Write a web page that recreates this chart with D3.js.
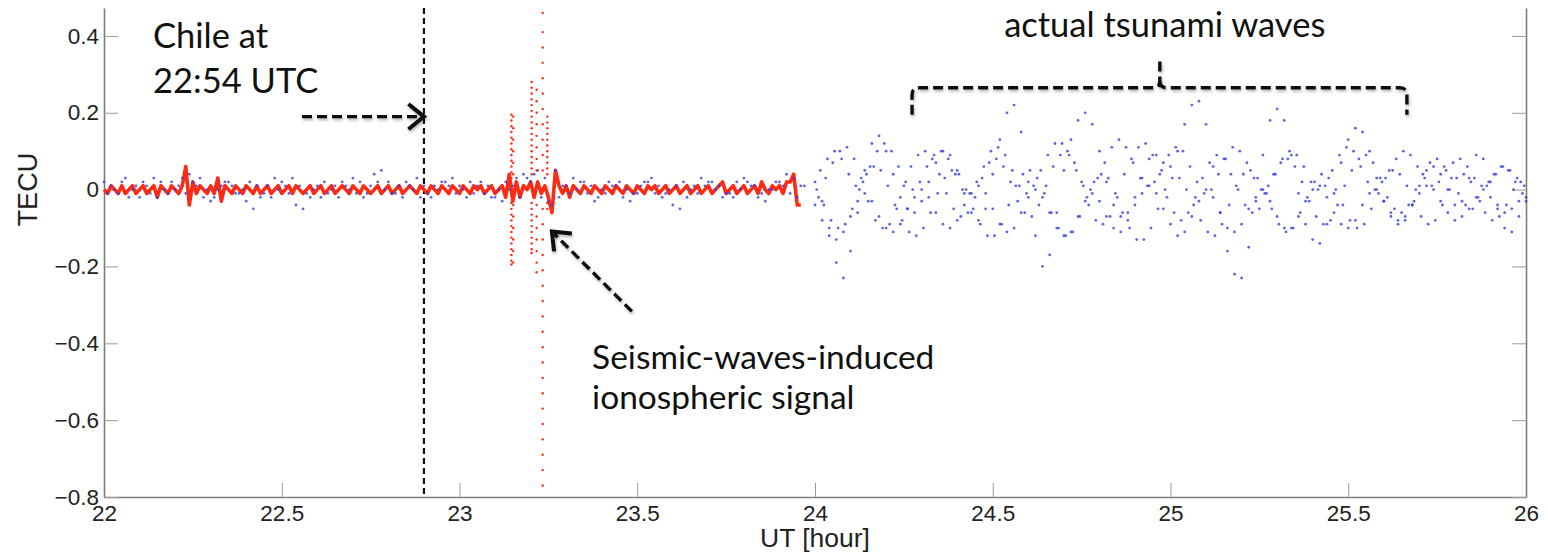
<!DOCTYPE html>
<html>
<head>
<meta charset="utf-8">
<script src="https://cdn.jsdelivr.net/npm/d3@7"></script>
<style>
  body { margin: 0; background: #fff; }
  svg { display: block; }
</style>
</head>
<body>
<svg id="chart" width="1548" height="554"></svg>
<script>
//*************************1. Data

const xTicks = [22, 22.5, 23, 23.5, 24, 24.5, 25, 25.5, 26];
const yTicks = [-0.8, -0.6, -0.4, -0.2, 0, 0.2, 0.4];
const quakeTime = 22.9; // 22:54 UTC

// red filtered TEC line, 22.00 .. 23.96 every 0.01 h
const redStart = 22.00, redStep = 0.01;
const redLine = [
  0.00,-0.01,0.01,0.00,-0.01,0.01,-0.01,0.00,0.01,-0.01,
  0.00,0.01,-0.01,0.00,0.01,-0.02,0.01,0.00,-0.01,0.01,
  0.00,-0.01,0.01,0.06,-0.04,0.02,-0.01,0.01,0.00,-0.01,
  0.01,-0.01,0.03,-0.03,0.01,0.00,-0.01,0.01,0.00,-0.01,
  0.01,0.00,-0.01,0.01,-0.01,0.00,0.01,-0.01,0.00,0.01,
  -0.01,0.00,0.01,-0.01,0.01,0.00,-0.01,0.00,0.01,-0.01,
  0.00,0.01,-0.01,0.00,0.01,-0.01,0.00,0.01,0.00,-0.01,
  0.01,0.00,-0.01,0.01,0.00,-0.01,0.00,0.01,-0.01,0.00,
  0.01,-0.01,0.00,0.01,-0.01,0.00,0.01,0.00,-0.01,0.01,
  0.00,-0.01,0.01,0.00,-0.01,0.01,0.00,-0.01,0.01,0.00,
  -0.01,0.01,0.00,-0.01,0.01,0.00,0.01,-0.01,0.00,0.01,
  -0.01,0.00,0.01,-0.02,0.04,-0.03,0.02,-0.02,0.01,0.00,
  0.02,-0.02,0.02,-0.01,0.01,-0.02,-0.06,0.05,0.01,-0.01,
  0.01,-0.02,0.01,0.00,-0.01,0.01,0.00,-0.01,0.01,0.00,
  -0.01,0.01,0.00,-0.01,0.01,0.00,-0.01,0.01,0.00,-0.01,
  0.01,0.00,-0.01,0.01,0.00,0.01,-0.01,0.00,0.01,-0.01,
  0.00,0.01,-0.01,0.00,0.01,-0.01,0.00,0.01,-0.01,0.00,
  0.01,-0.01,0.00,0.01,0.02,-0.01,0.00,0.01,-0.01,0.00,
  0.01,-0.01,0.00,0.01,-0.01,0.02,0.00,-0.01,0.01,0.00,
  0.01,-0.01,0.02,0.02,0.04,-0.04,-0.04
];

// blue dots before 24 h, every 0.02 h
const blueEarlyStart = 22.00, blueEarlyStep = 0.02;
const blueEarly1 = [
  0.02,0.01,-0.01,0.03,0.00,-0.02,0.01,0.03,0.02,-0.01,
  0.00,0.03,0.04,0.01,-0.02,-0.03,0.00,0.02,0.01,-0.01,
  -0.03,-0.05,-0.02,0.01,0.03,0.02,-0.01,-0.04,-0.05,-0.02,
  0.01,0.02,0.00,-0.02,0.01,0.03,0.02,-0.01,0.04,0.05,
  0.02,-0.01,-0.02,0.01,0.03,0.01,-0.02,0.00,0.02,0.03,
  0.01,-0.02,-0.01,0.02,0.01,-0.02,-0.03,0.00,0.03,0.04,
  0.02,0.05,0.03,-0.04,-0.02,0.01,0.03,0.02,-0.01,-0.03,
  0.00,0.02,0.01,-0.02,-0.03,-0.01,0.02,0.03,0.01,-0.01,
  -0.04,-0.05,-0.02,0.01,0.03,0.02,0.00,-0.02,-0.01,0.02,
  0.03,0.01,-0.02,-0.03,0.00,0.02,0.04,0.03,0.01
];
const blueEarly2 = [
  -0.01,0.00,0.02,-0.02,0.01,0.02,-0.01,-0.02,0.00,0.02,
  0.01,-0.01,0.02,0.03,0.00,-0.02,0.01,0.02,-0.01,0.00,
  0.02,0.01,-0.01,-0.02,0.00,0.01,0.03,0.01,-0.01,0.00,
  -0.02,-0.01,0.01,0.02,0.00,-0.01,-0.02,0.01,0.02,0.00,
  -0.01,0.01,0.02,0.00,-0.02,-0.01,0.01,0.02,0.01,-0.01,
  0.00,0.02,0.01,-0.01,-0.02,0.00,0.02,0.01,-0.02,0.03,
  0.04,-0.02,-0.03,0.05,0.01,-0.01,0.00,0.02,0.01,-0.02,
  -0.01,0.01,0.02,0.00,-0.01,0.01,0.02,-0.01,-0.02,0.00,
  0.01,0.02,0.00,-0.01,0.01,0.02,0.01,-0.01,-0.02,0.00,
  0.02,0.01,-0.01,0.00,0.02,0.01,-0.01,-0.02,0.01
];

// blue dots after 24 h (tsunami waves), every 0.02 h, one array per satellite track
const waveStep = 0.02;
const waveStarts = [24.000, 24.010, 24.005, 24.015, 24.000];
const wave1 = [
  0.02,-0.03,-0.10,-0.19,-0.23,-0.16,-0.06,0.05,0.12,0.14,
  0.10,0.04,-0.02,-0.05,-0.06,-0.03,0.02,0.07,0.10,0.09,
  0.05,-0.01,-0.06,-0.08,-0.05,0.04,0.13,0.20,0.22,0.15,
  0.02,-0.12,-0.20,-0.17,-0.06,0.05,0.13,0.18,0.20,0.17,
  0.10,0.02,-0.04,-0.07,-0.06,-0.02,0.03,0.08,0.09,0.07,
  0.06,0.10,0.17,0.22,0.23,0.17,0.06,-0.06,-0.16,-0.22,
  -0.23,-0.15,-0.03,0.09,0.18,0.21,0.18,0.09,-0.01,-0.09,
  -0.13,-0.14,-0.09,-0.01,0.07,0.13,0.16,0.15,0.10,0.03,
  -0.03,-0.07,-0.09,-0.08,-0.04,0.01,0.05,0.06,0.04,0.00,
  -0.04,-0.03,0.03,0.09,0.08,0.02,-0.05,-0.10,-0.11,-0.07,
  -0.03
];
const wave2 = [
  -0.02,0.03,0.07,0.10,0.11,0.08,0.03,-0.03,-0.08,-0.10,
  -0.09,-0.05,0.01,0.06,0.09,0.10,0.08,0.04,-0.01,-0.05,
  -0.07,-0.06,-0.02,0.03,0.07,0.08,0.06,0.02,-0.03,-0.06,
  -0.07,-0.04,0.01,0.06,0.09,0.10,0.07,0.02,-0.04,-0.08,
  -0.09,-0.07,-0.02,0.04,0.08,0.11,0.12,0.09,0.04,-0.02,
  -0.06,-0.08,-0.06,-0.02,0.03,0.07,0.09,0.08,0.04,0.00,
  -0.04,-0.06,-0.05,-0.01,0.04,0.07,0.08,0.06,0.02,-0.03,
  -0.07,-0.09,-0.08,-0.04,0.01,0.05,0.08,0.09,0.07,0.03,
  -0.02,-0.05,-0.06,-0.04,0.00,0.04,0.07,0.08,0.06,0.03,
  -0.01,-0.04,-0.05,-0.03,0.01,0.04,0.06,0.05,0.02,-0.01,
  -0.03
];
const wave3 = [
  0.00,-0.04,-0.08,-0.10,-0.09,-0.05,0.00,0.04,0.06,0.05,
  0.01,-0.04,-0.08,-0.11,-0.12,-0.10,-0.06,-0.01,0.03,0.05,
  0.04,0.00,-0.05,-0.09,-0.12,-0.12,-0.09,-0.04,0.01,0.04,
  0.05,0.03,-0.01,-0.06,-0.10,-0.12,-0.11,-0.07,-0.02,0.02,
  0.04,0.03,-0.01,-0.06,-0.10,-0.13,-0.13,-0.10,-0.05,0.00,
  0.03,0.03,0.00,-0.04,-0.08,-0.11,-0.12,-0.09,-0.04,0.01,
  0.04,0.05,0.03,-0.01,-0.05,-0.09,-0.11,-0.10,-0.06,-0.02,
  0.02,0.04,0.03,0.00,-0.04,-0.08,-0.10,-0.09,-0.05,-0.01,
  0.03,0.05,0.04,0.01,-0.03,-0.07,-0.09,-0.08,-0.04,0.00,
  0.03,0.04,0.02,-0.02,-0.06,-0.08,-0.07,-0.04,0.00,0.02,
  0.03
];
const wave4 = [
  0.05,0.08,0.10,0.08,0.04,0.01,0.02,0.06,0.10,0.12,
  0.10,0.06,0.02,0.00,0.02,0.06,0.09,0.10,0.08,0.04,
  0.00,-0.01,0.02,0.06,0.10,0.11,0.09,0.05,0.01,-0.01,
  0.01,0.05,0.09,0.12,0.12,0.09,0.05,0.01,0.00,0.03,
  0.07,0.11,0.13,0.11,0.07,0.03,0.01,0.02,0.05,0.09,
  0.11,0.10,0.06,0.02,-0.01,0.00,0.04,0.08,0.11,0.10,
  0.07,0.03,0.00,0.01,0.04,0.08,0.10,0.09,0.06,0.02,
  0.00,0.01,0.05,0.09,0.11,0.10,0.06,0.02,0.00,0.02,
  0.05,0.08,0.10,0.09,0.06,0.03,0.01,0.02,0.05,0.07,
  0.08,0.06,0.03,0.01,0.02,0.04,0.06,0.05,0.03,0.01,
  0.00
];
const wave5 = [
  -0.04,-0.08,-0.12,-0.13,-0.11,-0.07,-0.03,-0.01,-0.03,-0.07,
  -0.10,-0.11,-0.09,-0.05,-0.02,0.00,-0.02,-0.06,-0.09,-0.10,
  -0.08,-0.04,-0.01,0.01,-0.01,-0.05,-0.09,-0.11,-0.10,-0.06,
  -0.02,0.00,-0.02,-0.06,-0.10,-0.12,-0.11,-0.07,-0.03,-0.01,
  -0.03,-0.07,-0.10,-0.11,-0.08,-0.04,-0.01,0.01,-0.01,-0.05,
  -0.09,-0.12,-0.11,-0.07,-0.03,0.00,-0.02,-0.06,-0.10,-0.11,
  -0.09,-0.05,-0.02,0.00,-0.03,-0.07,-0.10,-0.10,-0.07,-0.03,
  0.00,0.01,-0.02,-0.06,-0.09,-0.10,-0.08,-0.04,-0.01,0.00,
  -0.03,-0.06,-0.08,-0.07,-0.04,-0.01,0.01,0.00,-0.03,-0.06,
  -0.08,-0.07,-0.05,-0.02,0.00,-0.02,-0.04,-0.06,-0.05,-0.03,
  -0.02
];

// red dotted columns of the seismic-wave signal
const spikeTimes = [23.146, 23.151, 23.203, 23.217, 23.234, 23.247];
const spike1 = [0.195,0.18,0.165,0.15,0.135,0.12,0.105,0.09,0.075,0.06,0.045,0.03,
  -0.035,-0.05,-0.065,-0.08,-0.095,-0.11,-0.125,-0.14,-0.155,-0.17,-0.185,-0.195];
const spike2 = [0.19,0.16,0.13,0.10,0.07,0.04,-0.04,-0.07,-0.10,-0.13,-0.16,-0.19];
const spike3 = [0.28,0.265,0.25,0.235,0.22,0.205,0.19,0.175,0.16,0.145,0.13,0.115,0.10,
  0.085,0.07,0.055,0.04,-0.035,-0.05,-0.065,-0.08,-0.095,-0.11,-0.125,-0.14,-0.155,-0.165];
const spike4 = [0.26,0.23,0.20,0.17,0.14,0.11,0.08,0.05,-0.04,-0.07,-0.10,-0.13,-0.16,-0.19,-0.215];
const spike5 = [0.46,0.41,0.37,0.33,0.29,0.25,0.21,0.17,0.13,0.09,0.05,-0.05,-0.09,-0.13,
  -0.17,-0.21,-0.25,-0.29,-0.33,-0.37,-0.41,-0.45,-0.49,-0.53,-0.57,-0.61,-0.65,-0.69,-0.73,-0.77];
const spike6 = [0.19,0.175,0.16,0.145,0.13,0.115,0.10,0.085,0.07,0.055,0.04,-0.035,-0.05];

//*************************2. Canvas & scales

const svg = d3.select("#chart");
svg.append("rect").attr("width", 1548).attr("height", 554).attr("fill", "#fff");

const defs = svg.append("defs");
defs.append("filter").attr("id", "shadow")
  .attr("x", "-20%").attr("y", "-20%").attr("width", "140%").attr("height", "140%")
  .append("feDropShadow")
  .attr("dx", 1).attr("dy", 2).attr("stdDeviation", 1.5)
  .attr("flood-color", "#000").attr("flood-opacity", 0.3);

const x = d3.scaleLinear().domain([22, 26]).range([104, 1526]);
const y = d3.scaleLinear().domain([-0.8, 0.4727]).range([497, 8]);

const tickFont = "'Liberation Sans', Arial, Helvetica, sans-serif";
const noteFont = "Lato, 'Open Sans', sans-serif";

//*************************3. Axes (MATLAB box, ticks inward)

const xAxis = svg.append("g")
  .attr("transform", `translate(0,${y(-0.8)})`)
  .call(d3.axisBottom(x).tickValues(xTicks).tickSize(-14).tickSizeOuter(0)
    .tickPadding(8).tickFormat(d3.format("")));

const yAxis = svg.append("g")
  .attr("transform", `translate(${x(22)},0)`)
  .call(d3.axisLeft(y).tickValues(yTicks).tickSize(-14).tickSizeOuter(0)
    .tickPadding(5).tickFormat(d3.format("")));

const rAxis = svg.append("g")
  .attr("transform", `translate(${x(26)},0)`)
  .call(d3.axisRight(y).tickValues(yTicks).tickSize(-14).tickSizeOuter(0).tickFormat(""));

[xAxis, yAxis, rAxis].forEach(g => {
  g.select(".domain").attr("stroke", "#7d7d7d").attr("stroke-width", 1.6);
  g.selectAll(".tick line").attr("stroke", "#9a9a9a").attr("stroke-width", 1);
  g.selectAll(".tick text").attr("fill", "#222").attr("font-family", tickFont).attr("font-size", 22.5);
});

svg.append("text")
  .attr("x", x(24)).attr("y", 547)
  .attr("text-anchor", "middle")
  .attr("font-family", tickFont).attr("font-size", 26.5).attr("fill", "#222")
  .text("UT [hour]");

svg.append("text")
  .attr("transform", `translate(37,${y(0)}) rotate(-90)`)
  .attr("text-anchor", "middle")
  .attr("font-family", tickFont).attr("font-size", 27).attr("fill", "#222")
  .text("TECU");

//*************************4. Marks

const plot = svg.append("g");

// earthquake time
plot.append("line")
  .attr("x1", x(quakeTime)).attr("x2", x(quakeTime))
  .attr("y1", y(0.4727)).attr("y2", y(-0.8))
  .attr("stroke", "#111").attr("stroke-width", 2.2)
  .attr("stroke-dasharray", "6,4");

// red filtered line
const redData = redLine.map((v, i) => ({t: redStart + i * redStep, v}));
plot.append("path")
  .datum(redData)
  .attr("fill", "none")
  .attr("stroke", "#ff2a12")
  .attr("stroke-width", 3.6)
  .attr("stroke-linejoin", "round")
  .attr("d", d3.line().x(d => x(d.t)).y(d => y(d.v)));

// blue dots
const blueData = [];
[blueEarly1, blueEarly2].forEach((arr, k) =>
  arr.forEach((v, i) => blueData.push({t: blueEarlyStart + k * 0.01 + i * blueEarlyStep, v})));
[wave1, wave2, wave3, wave4, wave5].forEach((arr, k) =>
  arr.forEach((v, i) => blueData.push({t: waveStarts[k] + i * waveStep, v})));

plot.append("g").selectAll("circle")
  .data(blueData.filter(d => d.t <= 26))
  .join("circle")
  .attr("cx", d => x(d.t))
  .attr("cy", d => y(d.v))
  .attr("r", 1.4)
  .attr("fill", "#3340d8")
  .attr("fill-opacity", 0.8);

// red dotted seismic columns
const spikeData = [];
[spike1, spike2, spike3, spike4, spike5, spike6].forEach((arr, k) =>
  arr.forEach(v => spikeData.push({t: spikeTimes[k], v})));

plot.append("g").selectAll("circle")
  .data(spikeData)
  .join("circle")
  .attr("cx", d => x(d.t))
  .attr("cy", d => y(d.v))
  .attr("r", 1.2)
  .attr("fill", "#ff2a12");

//*************************5. Annotations

const notes = svg.append("g")
  .attr("font-family", noteFont).attr("font-size", 34.5).attr("fill", "#111");

notes.append("text").attr("x", x(22.138)).attr("y", y(0.369)).text("Chile at");
notes.append("text").attr("x", x(22.138)).attr("y", y(0.252)).text("22:54 UTC");
notes.append("text").attr("x", x(24.532)).attr("y", y(0.397)).text("actual tsunami waves");
notes.append("text").attr("x", x(23.373)).attr("y", y(-0.466))
  .attr("font-size", 33.5).text("Seismic-waves-induced");
notes.append("text").attr("x", x(23.373)).attr("y", y(-0.57))
  .attr("font-size", 33.5).text("ionospheric signal");

const arrows = svg.append("g")
  .attr("stroke", "#111").attr("fill", "none")
  .attr("filter", "url(#shadow)");

function arrow(t0, v0, t1, v1) {
  const [ax, ay] = [x(t0), y(v0)];
  const [bx, by] = [x(t1), y(v1)];
  arrows.append("line")
    .attr("x1", ax).attr("y1", ay).attr("x2", bx - (bx - ax) * 0.03).attr("y2", by - (by - ay) * 0.03)
    .attr("stroke-width", 3.4).attr("stroke-dasharray", "10,5");
  const ang = Math.atan2(ay - by, ax - bx);
  const len = 20, spread = 0.68;
  const p1 = [bx + len * Math.cos(ang + spread), by + len * Math.sin(ang + spread)];
  const p2 = [bx + len * Math.cos(ang - spread), by + len * Math.sin(ang - spread)];
  arrows.append("path")
    .attr("d", `M${p1}L${bx},${by}L${p2}`)
    .attr("stroke-width", 4).attr("stroke-linejoin", "miter");
}

arrow(22.557, 0.19, quakeTime, 0.19);
arrow(23.485, -0.317, 23.26, -0.109);

// curly bracket over the tsunami waves
const bx0 = x(24.273), bx1 = x(25.665), bxm = x(24.97);
const bY = y(0.265), bEnd = y(0.195), bTop = y(0.345);
arrows.append("path")
  .attr("d", `M${bx0},${bEnd}L${bx0},${bY + 7}Q${bx0},${bY} ${bx0 + 7},${bY}` +
             `L${bxm - 7},${bY}Q${bxm},${bY} ${bxm},${bY - 7}L${bxm},${bTop}` +
             `M${bxm},${bY - 7}Q${bxm},${bY} ${bxm + 7},${bY}` +
             `L${bx1 - 7},${bY}Q${bx1},${bY} ${bx1},${bY + 7}L${bx1},${bEnd}`)
  .attr("stroke-width", 3.4).attr("stroke-dasharray", "10,5");
</script>
</body>
</html>
